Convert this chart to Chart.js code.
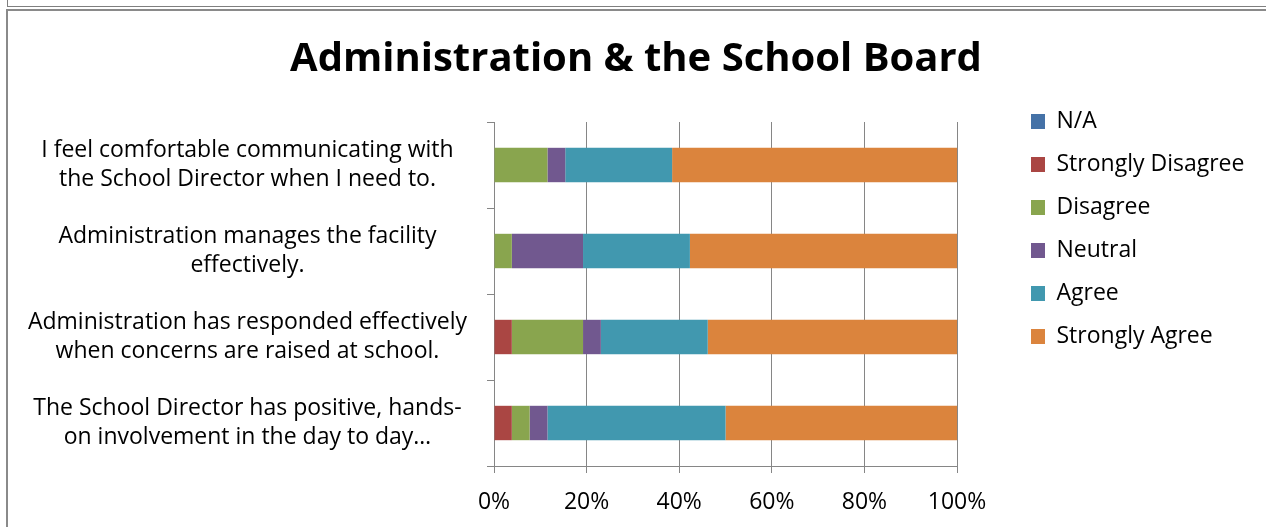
<!DOCTYPE html>
<html>
<head>
<meta charset="utf-8">
<script src="https://cdn.jsdelivr.net/npm/chart.js@4.4.1/dist/chart.umd.min.js"></script>
<style>
  html, body { margin: 0; padding: 0; background: #fff; overflow: hidden; }
  #frameTop { position: absolute; left: 7px; top: -20px; width: 1300px; height: 25px; border: 1px solid #7f7f7f; }
  #frameMain { position: absolute; left: 6px; top: 9px; width: 1300px; height: 600px; border-top: 2px solid #8a8a8a; border-left: 2px solid #8a8a8a; }
  #wrap { position: absolute; left: 0; top: 0; width: 1266px; height: 527px; }
</style>
</head>
<body>
<div id="frameTop"></div>
<div id="frameMain"></div>
<div id="wrap"><canvas id="c" width="1266" height="527"></canvas></div>
<script>
const chartTitle = 'Administration & the School Board';
const categories = [
  ['I feel comfortable communicating with', 'the School Director when I need to.'],
  ['Administration manages the facility', 'effectively.'],
  ['Administration has responded effectively', 'when concerns are raised at school.'],
  ['The School Director has positive, hands-', 'on involvement in the day to day…']
];
const seriesNames = ['N/A', 'Strongly Disagree', 'Disagree', 'Neutral', 'Agree', 'Strongly Agree'];
const naValues = [0, 0, 0, 0];
const stronglyDisagreeValues = [0, 0, 3.85, 3.85];
const disagreeValues = [11.54, 3.85, 15.38, 3.85];
const neutralValues = [3.85, 15.38, 3.85, 3.85];
const agreeValues = [23.08, 23.08, 23.08, 38.46];
const stronglyAgreeValues = [61.54, 57.69, 53.85, 50.0];
const xTicks = [0, 20, 40, 60, 80, 100];
const seriesColors = ['#4572A7', '#AA4643', '#89A54E', '#71588F', '#4198AF', '#DB843D'];

const allValues = [naValues, stronglyDisagreeValues, disagreeValues, neutralValues, agreeValues, stronglyAgreeValues];
const FONT = "'Open Sans', 'DejaVu Sans', sans-serif";

const datasets = seriesNames.map((name, i) => ({
  label: name,
  data: allValues[i],
  backgroundColor: seriesColors[i],
  borderWidth: 0,
  categoryPercentage: 1.0,
  barPercentage: 0.4,
  xAxisID: 'x',
  yAxisID: 'y'
}));

new Chart(document.getElementById('c'), {
  type: 'bar',
  data: { labels: categories, datasets },
  options: {
    indexAxis: 'y',
    responsive: false,
    animation: false,
    layout: { padding: { left: 21, right: 15, top: 0, bottom: 0 } },
    plugins: {
      title: {
        display: true,
        text: chartTitle,
        color: '#000',
        font: { family: FONT, size: 40, weight: 'bold', lineHeight: 1.2 },
        padding: { top: 36, bottom: 38 }
      },
      legend: {
        display: true,
        position: 'right',
        align: 'start',
        maxWidth: 240,
        title: { display: true, text: '', font: { size: 10, lineHeight: 1.2 }, padding: { top: 78, bottom: 0 } },
        labels: {
          color: '#000',
          font: { family: FONT, size: 23 },
          boxWidth: 14,
          boxHeight: 15,
          padding: 20
        }
      },
      tooltip: { enabled: false }
    },
    scales: {
      x: {
        type: 'linear',
        stacked: true,
        min: 0,
        max: 100,
        position: 'bottom',
        afterBuildTicks: (s) => { s.ticks = xTicks.map(v => ({ value: v })); },
        afterFit: (s) => { s.height = 61; },
        grid: { color: '#868686', lineWidth: 1, tickLength: 7, drawTicks: true },
        border: { display: true, color: '#868686', width: 1 },
        ticks: {
          color: '#000',
          font: { family: FONT, size: 23 },
          padding: 16,
          callback: (v) => v + '%'
        }
      },
      y: {
        type: 'category',
        stacked: true,
        position: 'left',
        afterFit: (s) => { s.width = 473; },
        grid: { display: true, drawOnChartArea: false, color: '#868686', tickLength: 7, offset: true },
        border: { display: true, color: '#868686', width: 1 },
        ticks: {
          color: '#000',
          crossAlign: 'center',
          padding: 20,
          font: { family: FONT, size: 23, lineHeight: 1.26 }
        }
      },
      ySpacer: {
        type: 'category',
        position: 'right',
        display: true,
        afterFit: (s) => { s.width = 54; },
        grid: { display: false },
        border: { display: false },
        ticks: { display: false }
      }
    }
  }
});
</script>
</body>
</html>
